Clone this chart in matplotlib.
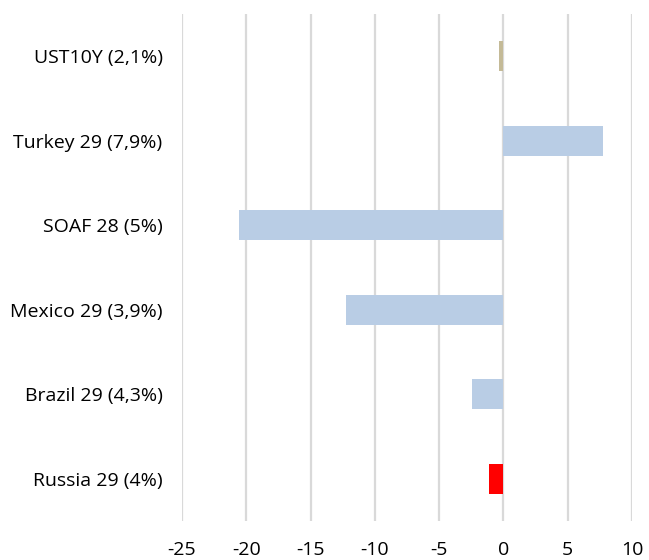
import matplotlib
matplotlib.use('Agg')
import matplotlib.pyplot as plt

# Data (top to bottom as shown)
labels = ['UST10Y (2,1%)', 'Turkey 29 (7,9%)', 'SOAF 28 (5%)',
          'Mexico 29 (3,9%)', 'Brazil 29 (4,3%)', 'Russia 29 (4%)']
values = [-0.33, 7.77, -20.54, -12.22, -2.43, -1.11]
colors = ['#C4BA97', '#B9CDE5', '#B9CDE5', '#B9CDE5', '#B9CDE5', '#FF0000']
xticks = [-25, -20, -15, -10, -5, 0, 5, 10]

plt.rcParams['font.family'] = ['Open Sans', 'DejaVu Sans']

fig = plt.figure(figsize=(6.49, 5.6), dpi=100)
W, H = 649, 560
ax = fig.add_axes([182 / W, (H - 521) / H, (632 - 182) / W, (521 - 14) / H])

ypos = list(range(len(labels)))[::-1]
ax.barh(ypos, values, height=0.36, color=colors, zorder=3)

ax.set_xlim(-25, 10)
ax.set_ylim(-0.5, len(labels) - 0.5)
ax.set_xticks(xticks)
ax.set_xticklabels([str(t) for t in xticks], fontsize=14)
ax.set_yticks(ypos)
ax.set_yticklabels(labels, fontsize=14)
ax.tick_params(length=0)
ax.tick_params(axis='y', pad=14)
ax.tick_params(axis='x', pad=14.5)
ax.grid(axis='x', color='#D9D9D9', linewidth=1.6, zorder=0)
for s in ax.spines.values():
    s.set_visible(False)

fig.savefig('out.png', dpi=100)
